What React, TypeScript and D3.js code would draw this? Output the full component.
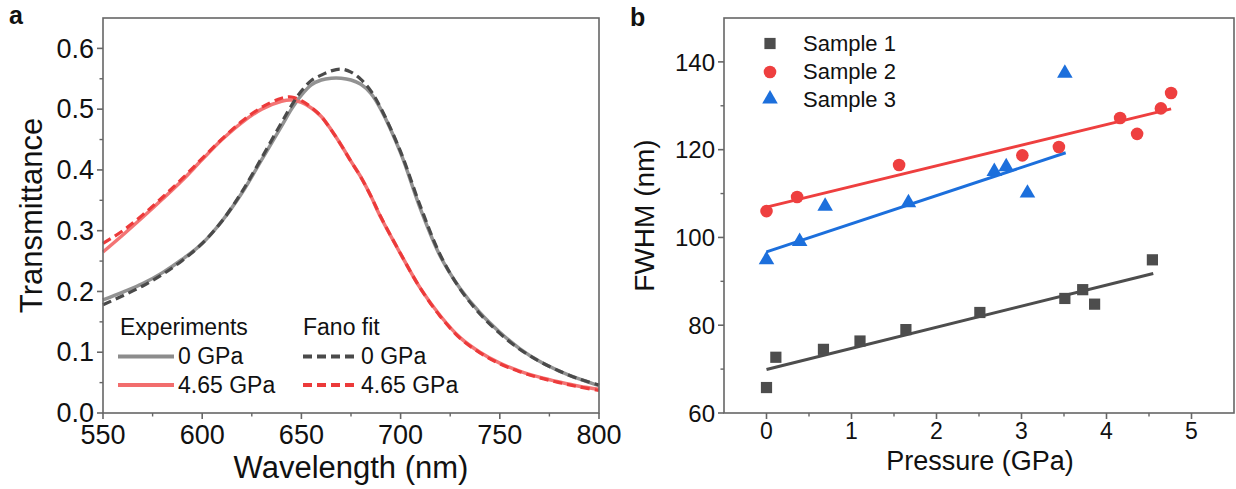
import React from "react";
import * as d3 from "d3";

// ---------- Panel a data ----------
const wavelength = [550, 560, 570, 580, 590, 600, 610, 620, 630, 640, 645, 650, 655, 660, 665, 670, 675, 680, 685, 690, 700, 710, 720, 730, 740, 750, 760, 770, 780, 790, 800];
const exp0GPa = [0.186, 0.199, 0.213, 0.231, 0.253, 0.279, 0.316, 0.362, 0.417, 0.472, 0.500, 0.523, 0.540, 0.548, 0.551, 0.551, 0.548, 0.541, 0.526, 0.500, 0.428, 0.336, 0.258, 0.205, 0.165, 0.133, 0.106, 0.085, 0.069, 0.056, 0.045];
const fit0GPa = [0.178, 0.193, 0.209, 0.228, 0.251, 0.279, 0.316, 0.364, 0.420, 0.478, 0.506, 0.530, 0.547, 0.556, 0.563, 0.566, 0.561, 0.549, 0.530, 0.502, 0.430, 0.340, 0.260, 0.204, 0.163, 0.131, 0.105, 0.085, 0.069, 0.056, 0.046];
const exp465GPa = [0.265, 0.293, 0.322, 0.352, 0.383, 0.417, 0.450, 0.478, 0.500, 0.513, 0.515, 0.511, 0.502, 0.488, 0.466, 0.441, 0.414, 0.388, 0.357, 0.322, 0.262, 0.205, 0.160, 0.124, 0.100, 0.082, 0.069, 0.059, 0.051, 0.044, 0.039];
const fit465GPa = [0.279, 0.300, 0.326, 0.355, 0.386, 0.419, 0.451, 0.480, 0.503, 0.518, 0.520, 0.514, 0.503, 0.488, 0.466, 0.441, 0.414, 0.388, 0.357, 0.323, 0.262, 0.205, 0.159, 0.123, 0.099, 0.081, 0.068, 0.058, 0.050, 0.043, 0.037];
const aXTicks = [550, 600, 650, 700, 750, 800];
const aYTicks = [0.0, 0.1, 0.2, 0.3, 0.4, 0.5, 0.6];

// ---------- Panel b data ----------
const s1Pressure = [0, 0.11, 0.67, 1.10, 1.64, 2.51, 3.51, 3.72, 3.86, 4.54];
const s1FWHM = [65.8, 72.7, 74.5, 76.4, 79.0, 82.9, 86.1, 88.1, 84.8, 94.9];
const s2Pressure = [0, 0.36, 1.56, 3.01, 3.44, 4.16, 4.36, 4.64, 4.76];
const s2FWHM = [106.0, 109.2, 116.5, 118.7, 120.6, 127.2, 123.6, 129.4, 132.9];
const s3Pressure = [0, 0.39, 0.69, 1.67, 2.68, 2.82, 3.07, 3.51];
const s3FWHM = [94.9, 99.1, 107.1, 107.9, 115.0, 116.1, 110.1, 137.4];
const fit1P = [0, 4.55];
const fit1V = [69.9, 91.8];
const fit2P = [0, 4.76];
const fit2V = [106.9, 129.3];
const fit3P = [0, 3.52];
const fit3V = [96.7, 119.3];
const bXTicks = [0, 1, 2, 3, 4, 5];
const bYTicks = [60, 80, 100, 120, 140];
const sampleNames = ["Sample 1", "Sample 2", "Sample 3"];

const FONT = "'Liberation Sans', Arial, Helvetica, sans-serif";
const GRAY_EXP = "#8c8c8c";
const GRAY_FIT = "#4a4a4a";
const RED_EXP = "#f26d6d";
const RED_FIT = "#ec3a3a";
const S1 = "#4d4d4d";
const S2 = "#ee3f3f";
const S3 = "#1c6fdc";
const AXIS = "#666";

export default function App() {
  // panel a geometry
  const aL = 103, aR = 599, aT = 18, aB = 413;
  const xa = d3.scaleLinear().domain([550, 800]).range([aL, aR]);
  const ya = d3.scaleLinear().domain([0, 0.65]).range([aB, aT]);
  const lineA = (vals: number[]) =>
    d3.line<number>().x((_, i) => xa(wavelength[i])).y((v) => ya(v)).curve(d3.curveCatmullRom)(vals) || "";

  // panel b geometry
  const bL = 724, bR = 1234, bT = 18, bB = 413;
  const xb = d3.scaleLinear().domain([-0.5, 5.5]).range([bL, bR]);
  const yb = d3.scaleLinear().domain([60, 150]).range([bB, bT]);
  const fitLine = (p: number[], v: number[]) =>
    d3.line<number>().x((d) => xb(d)).y((_, i) => yb(v[i]))(p) || "";
  const tri = d3.symbol().type(d3.symbolTriangle).size(105)() || "";

  const aXMinor = d3.range(575, 800, 50);
  const aYMinor = d3.range(0.05, 0.65, 0.1);
  const bXMinor = d3.range(0.5, 5.5, 1);
  const bYMinor = d3.range(70, 150, 20);

  return (
    <svg width={1236} height={489} style={{ position: "absolute", left: 0, top: 0, background: "#fff" }} fontFamily={FONT}>
      {/* ===== Panel a ===== */}
      <text x={9} y={24} fontSize={25} fontWeight="bold" fill="#111">a</text>
      <g>
        <path d={lineA(exp0GPa)} fill="none" stroke={GRAY_EXP} strokeWidth={3.5} strokeOpacity={0.95} />
        <path d={lineA(exp465GPa)} fill="none" stroke={RED_EXP} strokeWidth={3.5} strokeOpacity={0.95} />
        <path d={lineA(fit0GPa)} fill="none" stroke={GRAY_FIT} strokeWidth={3.2} strokeDasharray="9 5" />
        <path d={lineA(fit465GPa)} fill="none" stroke={RED_FIT} strokeWidth={3.2} strokeDasharray="9 5" />
        <rect x={aL} y={aT} width={aR - aL} height={aB - aT} fill="none" stroke={AXIS} strokeWidth={1.6} />
        {aXTicks.map((t) => (
          <g key={"ax" + t}>
            <line x1={xa(t)} x2={xa(t)} y1={aB} y2={aB + 6} stroke={AXIS} strokeWidth={1.6} />
            <text x={xa(t)} y={444} fontSize={27} textAnchor="middle" fill="#111">{t}</text>
          </g>
        ))}
        {aXMinor.map((t) => (
          <line key={"axm" + t} x1={xa(t)} x2={xa(t)} y1={aB} y2={aB + 3.5} stroke={AXIS} strokeWidth={1.4} />
        ))}
        {aYTicks.map((t) => (
          <g key={"ay" + t}>
            <line x1={aL - 6} x2={aL} y1={ya(t)} y2={ya(t)} stroke={AXIS} strokeWidth={1.6} />
            <text x={aL - 9} y={ya(t)} dy="0.34em" fontSize={27} textAnchor="end" fill="#111">{d3.format(".1f")(t)}</text>
          </g>
        ))}
        {aYMinor.map((t) => (
          <line key={"aym" + t} x1={aL - 3.5} x2={aL} y1={ya(t)} y2={ya(t)} stroke={AXIS} strokeWidth={1.4} />
        ))}
        <text x={(aL + aR) / 2} y={478} fontSize={31} textAnchor="middle" fill="#111">Wavelength (nm)</text>
        <text transform={`translate(42,${(aT + aB) / 2}) rotate(-90)`} fontSize={31} textAnchor="middle" fill="#111">Transmittance</text>
        {/* legend */}
        <text x={120} y={335} fontSize={23} fill="#111">Experiments</text>
        <text x={303} y={335} fontSize={23} fill="#111">Fano fit</text>
        <line x1={118} x2={174} y1={356.5} y2={356.5} stroke={GRAY_EXP} strokeWidth={4} />
        <text x={178} y={364} fontSize={23} fill="#111">0 GPa</text>
        <line x1={118} x2={174} y1={385} y2={385} stroke={RED_EXP} strokeWidth={4} />
        <text x={178} y={392.5} fontSize={23} fill="#111">4.65 GPa</text>
        <line x1={303} x2={356} y1={356.5} y2={356.5} stroke={GRAY_FIT} strokeWidth={4} strokeDasharray="9 5" />
        <text x={361} y={364} fontSize={23} fill="#111">0 GPa</text>
        <line x1={303} x2={356} y1={385} y2={385} stroke={RED_FIT} strokeWidth={4} strokeDasharray="9 5" />
        <text x={361} y={392.5} fontSize={23} fill="#111">4.65 GPa</text>
      </g>

      {/* ===== Panel b ===== */}
      <text x={630} y={26} fontSize={25} fontWeight="bold" fill="#111">b</text>
      <g>
        <path d={fitLine(fit1P, fit1V)} stroke={S1} strokeWidth={3} fill="none" />
        <path d={fitLine(fit2P, fit2V)} stroke={S2} strokeWidth={3} fill="none" />
        <path d={fitLine(fit3P, fit3V)} stroke={S3} strokeWidth={3} fill="none" />
        {s1Pressure.map((p, i) => (
          <rect key={"s1" + i} x={xb(p) - 5.6} y={yb(s1FWHM[i]) - 5.6} width={11.2} height={11.2} fill={S1} />
        ))}
        {s2Pressure.map((p, i) => (
          <circle key={"s2" + i} cx={xb(p)} cy={yb(s2FWHM[i])} r={6.3} fill={S2} />
        ))}
        {s3Pressure.map((p, i) => (
          <path key={"s3" + i} d={tri} transform={`translate(${xb(p)},${yb(s3FWHM[i])})`} fill={S3} />
        ))}
        <rect x={bL} y={bT} width={bR - bL} height={bB - bT} fill="none" stroke={AXIS} strokeWidth={1.6} />
        {bXTicks.map((t) => (
          <g key={"bx" + t}>
            <line x1={xb(t)} x2={xb(t)} y1={bB} y2={bB + 6} stroke={AXIS} strokeWidth={1.6} />
            <text x={xb(t)} y={439} fontSize={23} textAnchor="middle" fill="#111">{t}</text>
          </g>
        ))}
        {bXMinor.map((t) => (
          <line key={"bxm" + t} x1={xb(t)} x2={xb(t)} y1={bB} y2={bB + 3.5} stroke={AXIS} strokeWidth={1.4} />
        ))}
        {bYTicks.map((t) => (
          <g key={"by" + t}>
            <line x1={bL - 6} x2={bL} y1={yb(t)} y2={yb(t)} stroke={AXIS} strokeWidth={1.6} />
            <text x={bL - 9} y={yb(t)} dy="0.36em" fontSize={24} textAnchor="end" fill="#111">{t}</text>
          </g>
        ))}
        {bYMinor.map((t) => (
          <line key={"bym" + t} x1={bL - 3.5} x2={bL} y1={yb(t)} y2={yb(t)} stroke={AXIS} strokeWidth={1.4} />
        ))}
        <text x={(bL + bR) / 2 + 1} y={470} fontSize={27} textAnchor="middle" fill="#111">Pressure (GPa)</text>
        <text transform={`translate(654,${(bT + bB) / 2}) rotate(-90)`} fontSize={28} textAnchor="middle" fill="#111">FWHM (nm)</text>
        <rect x={770 - 5.6} y={43.5 - 5.6} width={11.2} height={11.2} fill={S1} />
        <circle cx={770} cy={72} r={6.3} fill={S2} />
        <path d={tri} transform="translate(770,99)" fill={S3} />
        {sampleNames.map((n, i) => (
          <text key={n} x={803} y={43.5 + i * 28 + 7.8} fontSize={22} fill="#111">{n}</text>
        ))}
      </g>
    </svg>
  );
}
